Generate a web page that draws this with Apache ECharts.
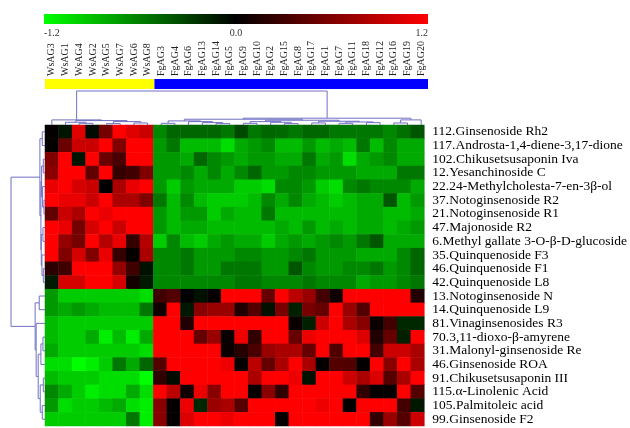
<!DOCTYPE html>
<html>
<head>
<meta charset="utf-8">
<script src="https://cdn.jsdelivr.net/npm/echarts@6/dist/echarts.min.js"></script>
<style>
html,body{margin:0;padding:0;background:#fff;}
#chart{width:630px;height:428px;}
</style>
</head>
<body>
<div id="chart"></div>
<script>
// column (sample) names, left to right
var sample_names = ["WsAG3","WsAG1","WsAG4","WsAG2","WsAG5","WsAG7","WsAG6","WsAG8",
	"FgAG3","FgAG4","FgAG6","FgAG13","FgAG14","FgAG5","FgAG9","FgAG10","FgAG2","FgAG15",
	"FgAG8","FgAG17","FgAG1","FgAG7","FgAG11","FgAG18","FgAG12","FgAG16","FgAG19","FgAG20"];
// sample groups (colour strip under the names)
var group_sizes = [8, 20];
var group_colors = ["#ffff00", "#0000ff"];
// row (compound) names, top to bottom
var compound_names = ["112.Ginsenoside Rh2","117.Androsta-1,4-diene-3,17-dione","102.Chikusetsusaponin Iva",
	"12.Yesanchinoside C","22.24-Methylcholesta-7-en-3β-ol","37.Notoginsenoside R2","21.Notoginsenoside R1",
	"47.Majonoside R2","6.Methyl gallate 3-O-β-D-glucoside","35.Quinquenoside F3","46.Quinquenoside F1",
	"42.Quinquenoside L8","13.Notoginsenoside N","14.Quinquenoside L9","81.Vinaginsenosides R3",
	"70.3,11-dioxo-β-amyrene","31.Malonyl-ginsenoside Re","46.Ginsenoside ROA","91.Chikusetsusaponin III",
	"115.α-Linolenic Acid","105.Palmitoleic acid","99.Ginsenoside F2"];
// colour scale range
var scale_min = -1.2;
var scale_max = 1.2;
// scaled abundance, one row per compound (8 Ws + 20 Fg columns)
var heat_values = [
	[0.02,-0.1,1.05,-0.05,0.55,1.2,1.05,0.95, -0.64,-0.48,-0.48,-0.48,-0.48,-0.56,-0.35,-0.56,-0.48,-0.5,-0.56,-0.48,-0.48,-0.56,-0.56,-0.56,-0.56,-0.64,-0.53,-0.4],
	[0.02,0.5,0.95,0.95,1.2,0.6,1.2,1.2, -0.72,-0.56,-0.88,-0.88,-0.88,-1.04,-0.8,-0.72,-0.64,-0.88,-0.88,-0.72,-0.88,-0.8,-0.88,-0.56,-0.88,-0.64,-0.8,-0.8],
	[0.6,1.2,-0.1,1.2,0.5,0.35,1.2,1.2, -0.72,-0.72,-0.8,-0.48,-0.64,-0.72,-0.8,-0.72,-0.72,-0.8,-0.8,-0.56,-0.8,-0.72,-1.04,-0.8,-0.72,-0.64,-0.8,-0.8],
	[0.65,1.2,1.2,0.45,1.2,0.25,0.3,0.6, -0.72,-0.72,-0.64,-0.8,-0.64,-0.8,-0.64,-0.48,-0.72,-0.72,-0.64,-0.64,-0.72,-0.72,-0.72,-0.8,-0.8,-0.8,-0.56,-0.56],
	[1.1,1.2,1.0,0.95,0.0,0.8,1.1,1.2, -0.72,-0.96,-0.72,-0.8,-0.8,-0.8,-0.96,-0.96,-1.04,-0.64,-0.64,-0.72,-0.96,-1.04,-0.64,-0.56,-0.64,-0.64,-0.64,-0.8],
	[1.2,1.1,1.1,0.95,1.2,0.8,0.8,0.6, -0.56,-0.88,-0.64,-0.88,-0.96,-0.96,-0.96,-0.88,-0.64,-0.8,-0.64,-0.8,-0.88,-0.96,-0.88,-0.8,-0.8,-0.4,-0.88,-0.72],
	[0.45,0.95,0.8,1.2,1.1,1.2,1.2,1.2, -0.72,-0.88,-0.72,-0.72,-0.96,-0.8,-0.88,-0.88,-0.56,-0.88,-0.88,-0.88,-0.88,-0.88,-0.88,-0.8,-0.8,-0.88,-0.88,-0.8],
	[1.2,1.1,0.55,1.0,1.2,0.95,1.2,1.2, -0.72,-0.88,-0.8,-0.8,-0.88,-0.88,-0.88,-0.88,-0.88,-0.8,-0.88,-0.72,-0.88,-0.8,-0.88,-0.8,-0.8,-0.88,-0.8,-0.72],
	[1.2,0.7,0.55,1.2,0.85,1.1,0.25,0.85, -0.96,-0.64,-0.88,-0.96,-0.8,-0.72,-0.8,-0.8,-0.96,-0.8,-0.72,-0.8,-0.72,-0.64,-0.72,-0.56,-0.4,-0.8,-0.8,-0.8],
	[1.2,0.6,1.0,0.6,1.1,0.25,0.02,0.8, -0.64,-0.64,-0.56,-0.72,-0.72,-0.72,-0.64,-0.64,-0.72,-0.72,-0.64,-0.56,-0.72,-0.72,-0.72,-0.8,-0.8,-0.8,-0.64,-0.48],
	[0.2,0.3,1.2,1.2,1.2,0.7,0.3,-0.08, -0.64,-0.64,-0.56,-0.72,-0.72,-0.56,-0.56,-0.56,-0.72,-0.72,-0.4,-0.64,-0.72,-0.72,-0.64,-0.64,-0.56,-0.72,-0.64,-0.48],
	[-0.12,1.0,1.0,1.2,1.2,1.0,0.1,-0.12, -0.64,-0.64,-0.64,-0.64,-0.64,-0.64,-0.56,-0.56,-0.64,-0.64,-0.64,-0.56,-0.64,-0.64,-0.64,-0.8,-0.72,-0.72,-0.64,-0.56],
	[-0.72,-0.96,-0.96,-0.96,-0.96,-0.96,-0.96,-1.04, 0.3,0.4,0.0,-0.08,0.02,1.2,1.2,1.2,0.48,1.2,0.88,0.72,0.32,0.08,1.2,1.2,1.2,1.2,1.2,0.15],
	[-0.72,-0.8,-0.72,-0.8,-0.88,-0.88,-0.88,-0.56, 0.08,1.2,-0.11,0.64,0.72,0.72,0.15,0.4,-0.08,0.56,-0.15,0.56,0.48,1.2,0.72,0.4,1.2,1.2,1.2,1.2],
	[-0.88,-0.96,-0.96,-0.96,-0.96,-0.96,-0.96,-0.96, 1.2,1.2,0.15,1.2,1.2,1.2,1.2,1.2,1.2,1.2,0.05,-0.15,0.96,1.2,0.8,0.64,0.05,0.32,-0.19,-0.19],
	[-0.88,-0.96,-0.96,-0.8,-1.12,-0.88,-1.12,-0.8, 1.2,1.2,1.2,0.48,0.72,0.05,1.12,0.23,1.2,1.2,0.48,1.12,1.2,1.2,1.2,1.04,0.15,0.48,-0.15,1.2],
	[-0.8,-0.96,-0.96,-0.96,-0.96,-0.96,-0.96,-1.04, 1.2,1.2,1.2,1.2,1.2,0.05,0.18,0.35,0.72,0.8,0.8,0.48,1.2,0.38,1.2,1.2,0.32,0.96,0.96,0.8],
	[-1.04,-1.04,-1.2,-1.12,-0.96,-0.56,-0.8,-0.48, 0.4,1.2,1.2,1.2,1.2,1.12,0.03,0.88,0.48,0.8,1.2,0.8,0.02,0.4,0.38,0.02,1.2,0.64,1.2,0.8],
	[-0.88,-0.96,-0.96,-0.96,-1.04,-1.04,-1.04,-1.2, 0.23,-0.05,1.2,1.2,1.2,1.2,1.2,0.8,1.2,1.2,1.12,-0.08,1.2,1.2,0.96,0.8,1.04,0.4,0.8,1.2],
	[-0.64,-0.8,-0.96,-1.12,-1.04,-1.04,-0.8,-1.04, 1.2,0.88,0.08,1.12,0.64,1.2,1.2,0.02,0.64,0.23,1.2,1.2,1.2,1.2,1.2,0.23,0.02,0.02,1.2,0.4],
	[-0.72,-1.04,-0.96,-0.96,-0.88,-0.8,-1.04,-1.12, 0.64,0.02,1.12,-0.19,0.72,0.8,0.4,1.2,1.2,1.2,1.2,1.2,1.12,1.2,0.02,1.2,1.2,1.2,0.32,-0.11],
	[-0.96,-0.96,-0.96,-0.96,-0.96,-0.96,-0.56,-1.12, 0.64,0.02,1.04,1.2,1.2,1.12,1.2,1.2,1.2,0.02,1.2,1.2,1.2,1.2,1.2,1.2,0.23,0.72,0.4,0.96]
];
// cluster trees: [height, left, right], a number is a leaf index (height 1 = root)
var col_tree = [1,
	[0.15, 0, [0.13, [0.08, 1, [0.05, 2, 3]], [0.1, [0.04, 4, 5], [0.06, 6, 7]]]],
	[0.2,
		[0.17,
			[0.12, [0.05, 8, 9], [0.1, 10, [0.07, 11, [0.04, 12, 13]]]],
			[0.14,
				[0.1, [0.05, 14, 15], [0.08, 16, [0.04, 17, 18]]],
				[0.11, [0.06, 19, 20], [0.09, [0.05, 21, 22], [0.07, 23, 24]]]]],
		[0.15, [0.06, 25, 26], 27]]];
var row_tree = [1,
	[0.15, [0.08, 0, 1],
		[0.12,
			[0.1, [0.05, 2, 3], [0.07, 4, [0.03, 5, 6]]],
			[0.11, [0.06, 7, 8], [0.09, 9, [0.05, 10, 11]]]]],
	[0.29, [0.17, 12, 13],
		[0.26, 14,
			[0.2,
				[0.12, [0.06, 15, 16], 17],
				[0.14, [0.05, 18, 19], [0.08, 20, 21]]]]]];

var font_serif = '"Times New Roman","Liberation Serif",serif';
var tree_color = "#7070c4";

//把聚类树展开成连线 [左位置, 右位置, 左高度, 右高度, 节点高度]
function build_links(node, links){
	if(typeof node === "number") return {pos: node + 0.5, h: 0};
	var a = build_links(node[1], links);
	var b = build_links(node[2], links);
	links.push([a.pos, b.pos, a.h, b.h, node[0]]);
	return {pos: (a.pos + b.pos) / 2, h: node[0]};
}
var col_links = [];
build_links(col_tree, col_links);
var row_links = [];
build_links(row_tree, row_links);

var heat_data = [];
for(var r = 0; r < heat_values.length; r++){
	for(var c = 0; c < heat_values[r].length; c++){
		heat_data.push([c, r, heat_values[r][c]]);
	}
}
var group_data = [];
var start = 0;
for(var g = 0; g < group_sizes.length; g++){
	group_data.push([start, start + group_sizes[g] - 1, g]);
	start += group_sizes[g];
}

function render_col_link(params, api){
	var p = [
		api.coord([api.value(0), api.value(2)]),
		api.coord([api.value(0), api.value(4)]),
		api.coord([api.value(1), api.value(4)]),
		api.coord([api.value(1), api.value(3)])
	];
	return {type: "polyline", shape: {points: p}, style: {stroke: tree_color, lineWidth: 1, fill: null}};
}
function render_row_link(params, api){
	var p = [
		api.coord([api.value(2), api.value(0)]),
		api.coord([api.value(4), api.value(0)]),
		api.coord([api.value(4), api.value(1)]),
		api.coord([api.value(3), api.value(1)])
	];
	return {type: "polyline", shape: {points: p}, style: {stroke: tree_color, lineWidth: 1, fill: null}};
}
function render_group(params, api){
	var w = api.size([1, 0])[0];
	var p0 = api.coord([api.value(0), 1]);
	var p1 = api.coord([api.value(1), 0]);
	return {type: "rect",
		shape: {x: p0[0] - w / 2, y: p0[1], width: p1[0] - p0[0] + w, height: p1[1] - p0[1]},
		style: {fill: group_colors[api.value(2)]}};
}
function render_scale(params, api){
	var p0 = api.coord([api.value(0), 1]);
	var p1 = api.coord([api.value(1), 0]);
	return {type: "rect",
		shape: {x: p0[0], y: p0[1], width: p1[0] - p0[0], height: p1[1] - p0[1]},
		style: {fill: new echarts.graphic.LinearGradient(0, 0, 1, 0, [
			{offset: 0, color: "#00ff00"}, {offset: 0.5, color: "#000000"}, {offset: 1, color: "#ff0000"}])}};
}

var chart = echarts.init(document.getElementById("chart"));
var option = {
	animation: false,
	backgroundColor: "#ffffff",
	grid: [
		{left: 45, top: 125, width: 383, height: 301},
		{left: 44, top: 14, width: 384, height: 10},
		{left: 45, top: 79, width: 383, height: 10},
		{left: 45, top: 91, width: 383, height: 34},
		{left: 11, top: 125, width: 34, height: 301}
	],
	xAxis: [
		{gridIndex: 0, type: "category", data: sample_names, show: false},
		{gridIndex: 1, type: "value", min: scale_min, max: scale_max, interval: 1.2,
			axisLine: {show: false}, axisTick: {show: false}, splitLine: {show: false},
			axisLabel: {margin: 4, fontSize: 10, color: "#333", fontFamily: font_serif,
				alignMinLabel: "left", alignMaxLabel: "right",
				formatter: function(v){ return v.toFixed(1); }}},
		{gridIndex: 2, type: "category", data: sample_names, position: "top",
			axisLine: {show: false}, axisTick: {show: false},
			axisLabel: {interval: 0, rotate: 90, margin: 3, fontSize: 10, color: "#222", fontFamily: font_serif}},
		{gridIndex: 3, type: "value", min: 0, max: sample_names.length, show: false},
		{gridIndex: 4, type: "value", min: 0, max: 1, inverse: true, show: false}
	],
	yAxis: [
		{gridIndex: 0, type: "category", data: compound_names, inverse: true, position: "right",
			axisLine: {show: false}, axisTick: {show: false},
			axisLabel: {interval: 0, margin: 8, fontSize: 13.5, color: "#000", fontFamily: font_serif}},
		{gridIndex: 1, type: "value", min: 0, max: 1, show: false},
		{gridIndex: 2, type: "value", min: 0, max: 1, show: false},
		{gridIndex: 3, type: "value", min: 0, max: 1, show: false},
		{gridIndex: 4, type: "value", min: 0, max: compound_names.length, inverse: true, show: false}
	],
	visualMap: {show: false, seriesIndex: 0, dimension: 2, min: scale_min, max: scale_max,
		inRange: {color: ["#00ff00", "#000000", "#ff0000"]}},
	series: [
		{type: "heatmap", xAxisIndex: 0, yAxisIndex: 0, data: heat_data, itemStyle: {borderWidth: 0}},
		{type: "custom", xAxisIndex: 1, yAxisIndex: 1, data: [[scale_min, scale_max]],
			encode: {x: [0, 1]}, renderItem: render_scale},
		{type: "custom", xAxisIndex: 2, yAxisIndex: 2, data: group_data,
			encode: {x: [0, 1], y: 2}, renderItem: render_group},
		{type: "custom", xAxisIndex: 3, yAxisIndex: 3, data: col_links,
			encode: {x: [0, 1], y: [2, 3, 4]}, renderItem: render_col_link},
		{type: "custom", xAxisIndex: 4, yAxisIndex: 4, data: row_links,
			encode: {x: [2, 3, 4], y: [0, 1]}, renderItem: render_row_link}
	]
};
chart.setOption(option);
</script>
</body>
</html>
